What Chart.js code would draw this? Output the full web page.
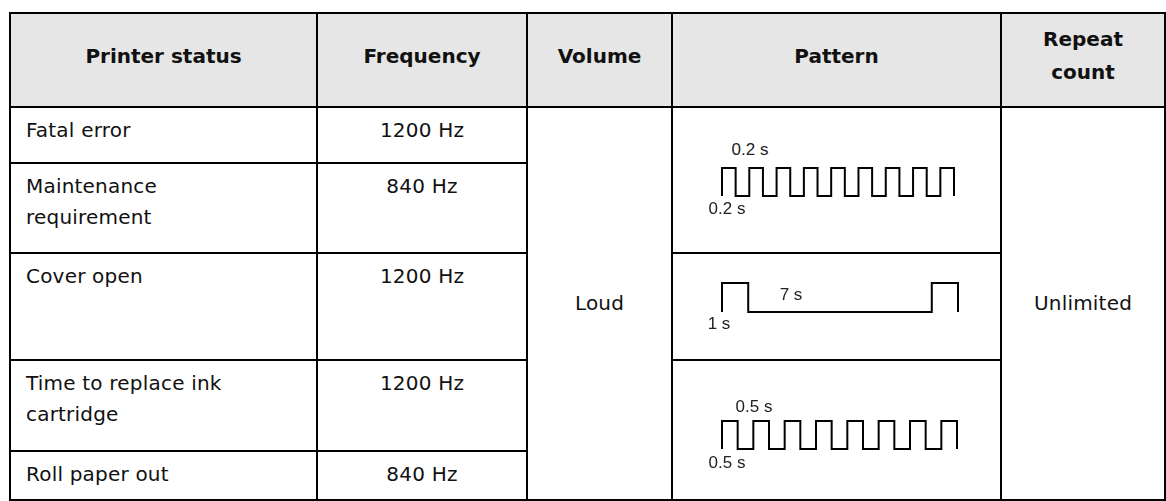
<!DOCTYPE html>
<html>
<head>
<meta charset="utf-8">
<script src="https://cdn.jsdelivr.net/npm/chart.js@4/dist/chart.umd.min.js"></script>
<style>
  body { margin: 0; background: #fff; }
  #sheet { position: relative; width: 1166px; height: 501px; overflow: hidden; font-family: "DejaVu Sans", sans-serif; color: #111; }
  .cell { position: absolute; box-sizing: border-box; border: 2px solid #000; }
  .head { background: #e6e6e6; font-weight: bold; font-size: 20px; display: flex; align-items: center; justify-content: center; text-align: center; line-height: 33px; padding-bottom: 8px; }
  .body { font-size: 20px; letter-spacing: 0.2px; line-height: 31px; padding-top: 7px; white-space: pre-line; }
  .left { padding-left: 15px; }
  .center { text-align: center; }
  .mid { display: flex; align-items: center; justify-content: center; }
  .lbl { position: absolute; transform: translate(-50%, -50%); font-family: "Liberation Sans", Arial, sans-serif; font-size: 17px; color: #222; white-space: nowrap; }
  canvas { position: absolute; }
</style>
</head>
<body>
<div id="sheet"></div>
<script>
// table text
const headers = ['Printer status', 'Frequency', 'Volume', 'Pattern', 'Repeat\ncount'];
const statuses = ['Fatal error', 'Maintenance\nrequirement', 'Cover open', 'Time to replace ink\ncartridge', 'Roll paper out'];
const frequencies = ['1200 Hz', '840 Hz', '1200 Hz', '1200 Hz', '840 Hz'];
const volume = 'Loud';
const repeatCount = 'Unlimited';

// buzzer patterns: time (s) and level (1 = sounding)
const errorTimes = [0, 0, 0.2, 0.4, 0.6, 0.8, 1.0, 1.2, 1.4, 1.6, 1.8, 2.0, 2.2, 2.4, 2.6, 2.8, 3.0, 3.2, 3.4];
const errorLevels = [0, 1, 0, 1, 0, 1, 0, 1, 0, 1, 0, 1, 0, 1, 0, 1, 0, 1, 0];
const coverTimes = [0, 0, 1, 8, 9];
const coverLevels = [0, 1, 0, 1, 0];
const inkTimes = [0, 0, 0.5, 1, 1.5, 2, 2.5, 3, 3.5, 4, 4.5, 5, 5.5, 6, 6.5, 7, 7.5];
const inkLevels = [0, 1, 0, 1, 0, 1, 0, 1, 0, 1, 0, 1, 0, 1, 0, 1, 0];

// grid lines of the table
const colX = [10, 317, 527, 672, 1001, 1165];
const rowY = [13, 107, 163, 253, 360, 451, 500];

const sheet = document.getElementById('sheet');

function addCell(c0, c1, r0, r1, cls, text) {
    const d = document.createElement('div');
    d.className = 'cell ' + cls;
    d.style.left = (colX[c0] - 1) + 'px';
    d.style.top = (rowY[r0] - 1) + 'px';
    d.style.width = (colX[c1] - colX[c0] + 2) + 'px';
    d.style.height = (rowY[r1] - rowY[r0] + 2) + 'px';
    if (cls.indexOf('head') >= 0) {
        d.innerHTML = text.replace('\n', '<br>');
    } else {
        d.textContent = text;
    }
    sheet.appendChild(d);
    return d;
}

function addLabel(x, y, text) {
    const s = document.createElement('div');
    s.className = 'lbl';
    s.style.left = x + 'px';
    s.style.top = y + 'px';
    s.textContent = text;
    sheet.appendChild(s);
}

headers.forEach((h, i) => addCell(i, i + 1, 0, 1, 'head', h));
statuses.forEach((s, i) => addCell(0, 1, i + 1, i + 2, 'body left', s));
frequencies.forEach((f, i) => addCell(1, 2, i + 1, i + 2, 'body center', f));
addCell(2, 3, 1, 6, 'body mid', volume).style.paddingTop = '0';
addCell(3, 4, 1, 3, '', '');
addCell(3, 4, 3, 4, '', '');
addCell(3, 4, 4, 6, '', '');
addCell(4, 5, 1, 6, 'body mid', repeatCount).style.paddingTop = '0';

function createPatternChart(times, levels, box) {
    const pad = 4;
    const canvas = document.createElement('canvas');
    canvas.width = box.w + pad * 2;
    canvas.height = box.h + pad * 2;
    canvas.style.left = (box.x - pad) + 'px';
    canvas.style.top = (box.y - pad) + 'px';
    sheet.appendChild(canvas);
    new Chart(canvas.getContext('2d'), {
        type: 'line',
        data: {
            datasets: [{
                data: times.map((t, i) => ({ x: t, y: levels[i] })),
                stepped: 'before',
                borderColor: '#000',
                borderWidth: 2,
                borderJoinStyle: 'miter',
                borderCapStyle: 'butt',
                pointRadius: 0,
                fill: false,
                clip: false
            }]
        },
        options: {
            responsive: false,
            animation: false,
            events: [],
            layout: { padding: pad },
            plugins: { legend: { display: false }, tooltip: { enabled: false } },
            scales: {
                x: { type: 'linear', display: false, min: times[0], max: times[times.length - 1] },
                y: { display: false, min: 0, max: 1 }
            }
        }
    });
}

createPatternChart(errorTimes, errorLevels, { x: 722, y: 168, w: 232, h: 28 });
addLabel(750, 150, '0.2 s');
addLabel(727, 209, '0.2 s');

createPatternChart(coverTimes, coverLevels, { x: 722, y: 283, w: 236, h: 29 });
addLabel(791, 295, '7 s');
addLabel(719, 324, '1 s');

createPatternChart(inkTimes, inkLevels, { x: 722, y: 421, w: 235, h: 28 });
addLabel(754, 407, '0.5 s');
addLabel(727, 463, '0.5 s');
</script>
</body>
</html>
